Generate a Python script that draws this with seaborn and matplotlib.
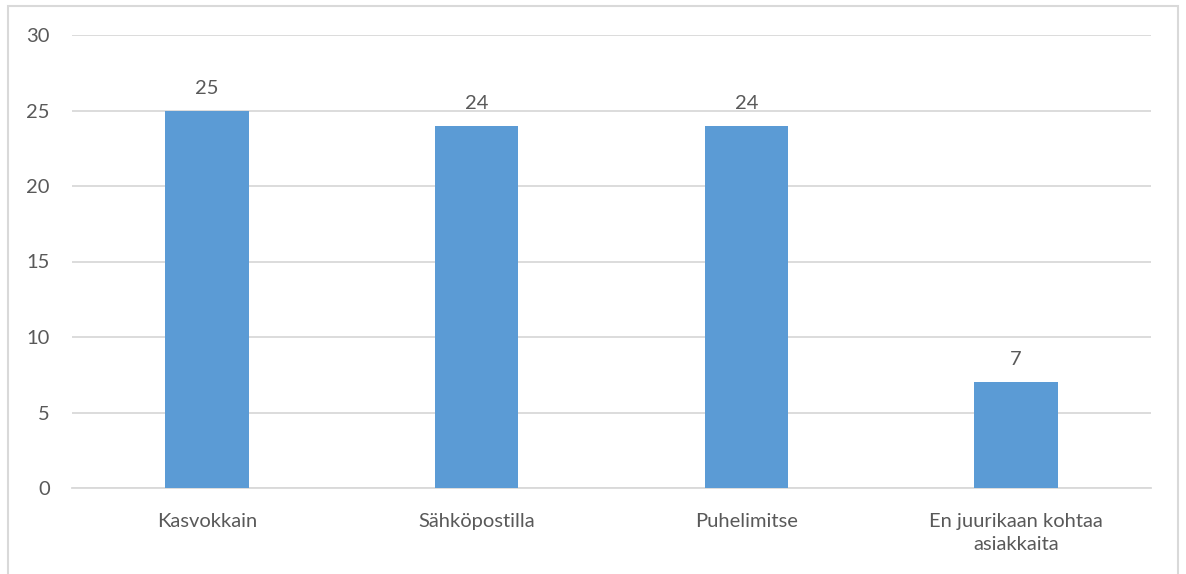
import matplotlib
matplotlib.use("Agg")
import matplotlib.pyplot as plt
import seaborn as sns
import pandas as pd
from matplotlib.patches import Rectangle

categories = ["Kasvokkain", "Sähköpostilla", "Puhelimitse", "En juurikaan kohtaa\nasiakkaita"]
values = [25, 24, 24, 7]
y_ticks = [0, 5, 10, 15, 20, 25, 30]

sns.set_theme(style="white")
plt.rcParams["font.family"] = ["Lato", "DejaVu Sans"]

text_color = "#595959"
bar_color = "#5B9BD5"
grid_color = "#D9D9D9"

df = pd.DataFrame({"category": categories, "value": values})

fig = plt.figure(figsize=(11.86, 5.74), dpi=100)
ax = fig.add_axes([72 / 1186, 1 - 488 / 574, (1151 - 72) / 1186, (488 - 35) / 574])

sns.barplot(data=df, x="category", y="value", color=bar_color, width=0.31,
            saturation=1, linewidth=0, edgecolor="none", ax=ax, zorder=3)

ax.set_ylim(0, 30)
ax.set_xlim(-0.5, len(categories) - 0.5)
ax.set_yticks(y_ticks)
ax.yaxis.grid(True, color=grid_color, linewidth=1.3, zorder=0)
ax.set_axisbelow(True)
for s in ["top", "right", "left"]:
    ax.spines[s].set_visible(False)
ax.spines["bottom"].set_color(grid_color)
ax.spines["bottom"].set_linewidth(1.3)
ax.set_xlabel("")
ax.set_ylabel("")
ax.tick_params(axis="both", length=0, labelsize=14.5, colors=text_color)
ax.tick_params(axis="y", pad=16)
ax.tick_params(axis="x", pad=18)
for lbl in ax.get_xticklabels():
    lbl.set_linespacing(1.45)
    lbl.set_verticalalignment("top")

for container in ax.containers:
    ax.bar_label(container, labels=[str(v) for v in values], padding=10,
                 fontsize=14.5, color=text_color)

# light frame around the chart area
fig.patches.append(Rectangle((8 / 1186, -0.05), 1170 / 1186, 1.05 - 6 / 574,
                             transform=fig.transFigure, fill=False,
                             edgecolor="#D9D9D9", linewidth=1.5))

fig.savefig("out.png", dpi=100)
